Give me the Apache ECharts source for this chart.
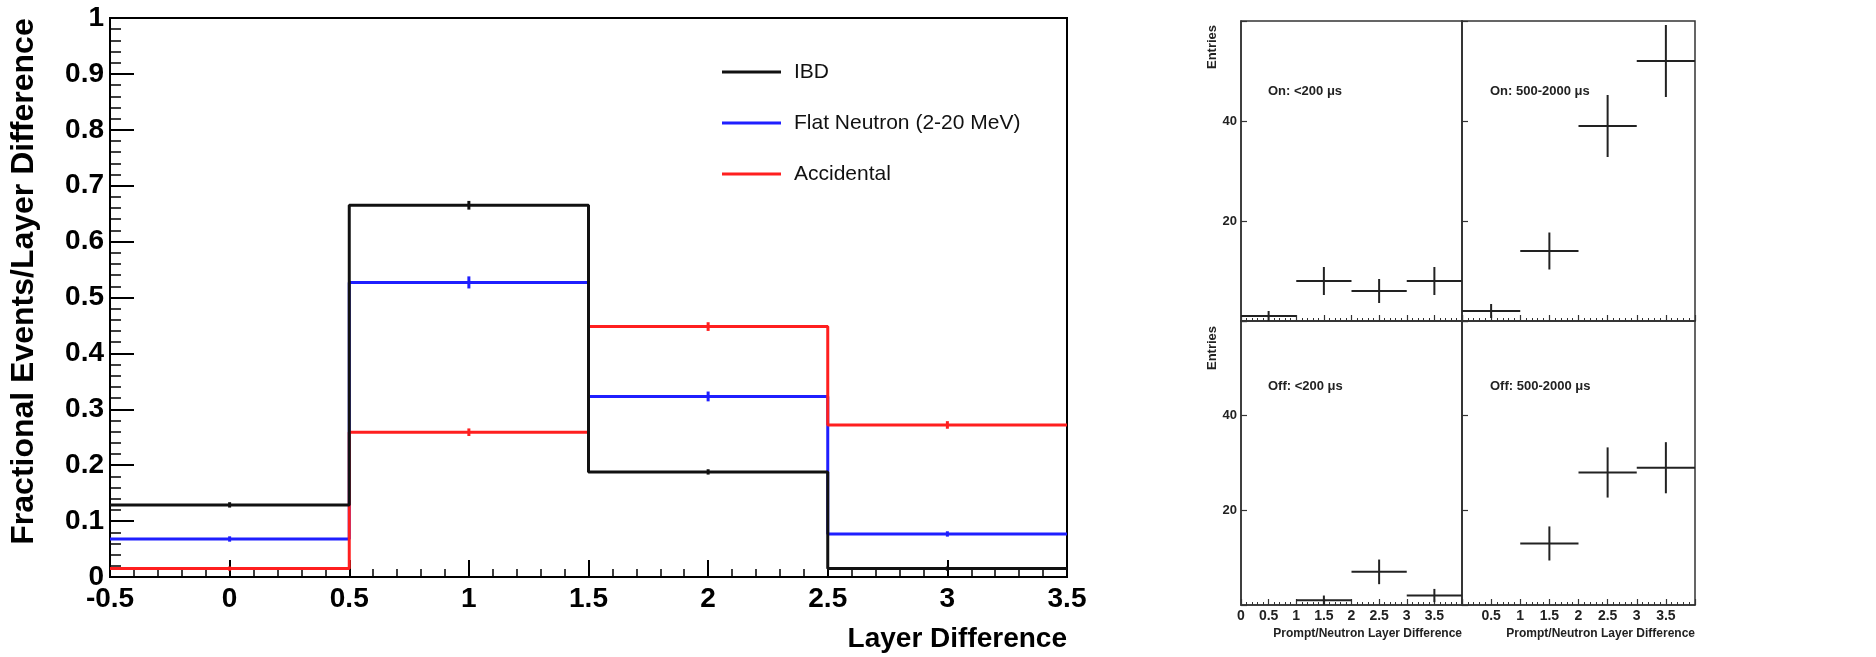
<!DOCTYPE html>
<html>
<head>
<meta charset="utf-8">
<script src="https://cdn.jsdelivr.net/npm/echarts@6/dist/echarts.min.js"></script>
<style>
html,body{margin:0;padding:0;background:#fff;}
#chart{width:1876px;height:657px;}
</style>
</head>
<body>
<div id="chart"></div>
<script>
// ---------- Main histogram data ----------
const binEdges = [-0.5, 0.5, 1.5, 2.5, 3.5];
const binCenters = [0, 1, 2, 3];
const ibdVals  = [0.129, 0.665, 0.188, 0.015];
const flatVals = [0.068, 0.527, 0.323, 0.077];
const accVals  = [0.015, 0.259, 0.448, 0.272];
const ibdErr  = [0.003, 0.006, 0.003, 0.002];
const flatErr = [0.003, 0.009, 0.007, 0.003];
const accErr  = [0.002, 0.005, 0.006, 0.005];
const seriesNames = ['IBD', 'Flat Neutron (2-20 MeV)', 'Accidental'];
const yTicks = [0, 0.1, 0.2, 0.3, 0.4, 0.5, 0.6, 0.7, 0.8, 0.9, 1];

// ---------- Small panels data ----------
const smallCenters = [0.5, 1.5, 2.5, 3.5];
const smallBinWidth = 1;
const onShort   = [1, 8, 6, 8];
const onShortErr = [1, 2.8, 2.4, 2.8];
const onLong    = [2, 14, 39, 52];
const onLongErr  = [1.4, 3.7, 6.2, 7.2];
const offShort  = [0, 1, 7, 2];
const offShortErr = [0, 1, 2.6, 1.4];
const offLong   = [0, 13, 28, 29];
const offLongErr  = [0, 3.6, 5.3, 5.4];
const panelLabels = ['On: <200 \u03bcs', 'On: 500-2000 \u03bcs', 'Off: <200 \u03bcs', 'Off: 500-2000 \u03bcs'];

const FONT = 'Liberation Sans, Arial, Helvetica, sans-serif';
const colors = {ibd: '#111111', flat: '#1f1fff', acc: '#ff1f1f'};

function stepData(vals) {
  return binEdges.map((e, i) => [e, vals[Math.min(i, vals.length - 1)]]);
}
function errData(vals, errs) {
  return binCenters.map((c, i) => [c, vals[i], errs[i]]);
}
function errRender(color) {
  return function (params, api) {
    const x = api.value(0), v = api.value(1), e = api.value(2);
    const t = api.coord([x, v + e]), b = api.coord([x, v - e]);
    return {type: 'line', shape: {x1: t[0], y1: t[1] - 1, x2: b[0], y2: b[1] + 1},
      style: {stroke: color, lineWidth: 3}};
  };
}
function crossRender(params, api) {
  const x = api.value(0), v = api.value(1), e = api.value(2);
  if (v <= 0) return null;
  const l = api.coord([x - smallBinWidth / 2, v]), r = api.coord([x + smallBinWidth / 2, v]);
  const t = api.coord([x, v + e]), b = api.coord([x, Math.max(0, v - e)]);
  return {type: 'group', children: [
    {type: 'line', shape: {x1: l[0], y1: l[1], x2: r[0], y2: r[1]}, style: {stroke: '#222', lineWidth: 2}},
    {type: 'line', shape: {x1: t[0], y1: t[1], x2: b[0], y2: b[1]}, style: {stroke: '#222', lineWidth: 2}}
  ]};
}
function crossData(vals, errs) {
  return smallCenters.map((c, i) => [c, vals[i], errs[i]]);
}

const chart = echarts.init(document.getElementById('chart'), null, {renderer: 'canvas'});

const smallGrids = [
  {left: 1241, top: 21, width: 221, height: 300},
  {left: 1462, top: 21, width: 233, height: 300},
  {left: 1241, top: 321, width: 221, height: 284},
  {left: 1462, top: 321, width: 233, height: 284}
];

const grids = [{left: 109, top: 18, width: 958, height: 559, show: true, borderColor: '#000', borderWidth: 2, backgroundColor: 'transparent'}]
  .concat(smallGrids.map(g => Object.assign({show: true, borderColor: '#333', borderWidth: 1.5}, g)));

const xAxes = [{
  type: 'value', gridIndex: 0, min: -0.5, max: 3.5, interval: 0.5,
  axisLine: {show: true, onZero: false, lineStyle: {color: '#000', width: 2}},
  axisTick: {show: true, inside: true, length: 17, lineStyle: {color: '#000', width: 2}},
  minorTick: {show: true, splitNumber: 5, length: 8, lineStyle: {color: '#000', width: 1.5}},
  splitLine: {show: false},
  axisLabel: {fontFamily: FONT, fontWeight: 'bold', fontSize: 28, color: '#000', margin: 8},
  name: 'Layer Difference', nameLocation: 'end', nameGap: 0,
  nameTextStyle: {fontFamily: FONT, fontWeight: 'bold', fontSize: 28, color: '#000', align: 'right', verticalAlign: 'top', padding: [48, 0, 0, 0]}
}];
const yAxes = [{
  type: 'value', gridIndex: 0, min: 0, max: 1, interval: 0.1,
  axisLine: {show: true, onZero: false, lineStyle: {color: '#000', width: 2}},
  axisTick: {show: true, inside: true, length: 24, lineStyle: {color: '#000', width: 2}},
  minorTick: {show: true, splitNumber: 5, length: 11, lineStyle: {color: '#000', width: 1.5}},
  splitLine: {show: false},
  axisLabel: {fontFamily: FONT, fontWeight: 'bold', fontSize: 28, color: '#000', margin: 6,
    formatter: v => yTicks.includes(Math.round(v * 10) / 10) ? String(Math.round(v * 10) / 10) : ''},
  name: 'Fractional Events/Layer Difference', nameLocation: 'middle', nameGap: 70,
  nameTextStyle: {fontFamily: FONT, fontWeight: 'bold', fontSize: 32, color: '#000', padding: [0, 0, 0, 32]}
}];

smallGrids.forEach((g, i) => {
  const gi = i + 1;
  const isBottom = i >= 2, isLeft = (i % 2 === 0);
  xAxes.push({
    type: 'value', gridIndex: gi, min: 0, max: 4, interval: 0.5,
    axisLine: {show: true, onZero: false, lineStyle: {color: '#333', width: 1.5}},
    axisTick: {show: true, inside: true, length: 6, lineStyle: {color: '#333', width: 1.2}},
    minorTick: {show: true, splitNumber: 5, length: 3, lineStyle: {color: '#333', width: 1}},
    splitLine: {show: false},
    axisLabel: {show: isBottom, fontFamily: FONT, fontWeight: 'bold', fontSize: 14, color: '#222', margin: 4,
      showMaxLabel: false,
      formatter: v => (v >= 4 || (!isLeft && v === 0)) ? '' : String(v)},
    name: isBottom ? 'Prompt/Neutron Layer Difference' : '', nameLocation: 'end', nameGap: 0,
    nameTextStyle: {fontFamily: FONT, fontWeight: 'bold', fontSize: 12, color: '#222', align: 'right', verticalAlign: 'top', padding: [23, 0, 0, 0]}
  });
  yAxes.push({
    type: 'value', gridIndex: gi, min: 0, max: 60, interval: 20,
    axisLine: {show: true, onZero: false, lineStyle: {color: '#333', width: 1.5}},
    axisTick: {show: true, inside: true, length: 6, lineStyle: {color: '#333', width: 1.2}},
    splitLine: {show: false},
    axisLabel: {show: isLeft, fontFamily: FONT, fontWeight: 'bold', fontSize: 13, color: '#222', margin: 4,
      formatter: v => (v === 0 || v === 60) ? '' : String(v)},
    name: isLeft ? 'Entries' : '', nameLocation: 'middle', nameGap: 18,
    nameTextStyle: {fontFamily: FONT, fontWeight: 'bold', fontSize: 13, color: '#222', padding: [0, 0, 0, isBottom ? 230 : 248]}
  });
});

const series = [
  {name: seriesNames[1], type: 'line', step: 'end', xAxisIndex: 0, yAxisIndex: 0, data: stepData(flatVals),
    symbol: 'none', lineStyle: {color: colors.flat, width: 3}, itemStyle: {color: colors.flat}, z: 2},
  {name: seriesNames[2], type: 'line', step: 'end', xAxisIndex: 0, yAxisIndex: 0, data: stepData(accVals),
    symbol: 'none', lineStyle: {color: colors.acc, width: 3}, itemStyle: {color: colors.acc}, z: 3},
  {name: seriesNames[0], type: 'line', step: 'end', xAxisIndex: 0, yAxisIndex: 0, data: stepData(ibdVals),
    symbol: 'none', lineStyle: {color: colors.ibd, width: 3}, itemStyle: {color: colors.ibd}, z: 4},
  {name: 'flatErr', type: 'custom', xAxisIndex: 0, yAxisIndex: 0, data: errData(flatVals, flatErr), renderItem: errRender(colors.flat), z: 2},
  {name: 'accErr', type: 'custom', xAxisIndex: 0, yAxisIndex: 0, data: errData(accVals, accErr), renderItem: errRender(colors.acc), z: 3},
  {name: 'ibdErr', type: 'custom', xAxisIndex: 0, yAxisIndex: 0, data: errData(ibdVals, ibdErr), renderItem: errRender(colors.ibd), z: 4}
];
const smallSets = [[onShort, onShortErr], [onLong, onLongErr], [offShort, offShortErr], [offLong, offLongErr]];
smallSets.forEach((s, i) => {
  series.push({name: panelLabels[i], type: 'custom', xAxisIndex: i + 1, yAxisIndex: i + 1,
    data: crossData(s[0], s[1]), renderItem: crossRender, clip: false});
});

const titles = panelLabels.map((t, i) => ({
  text: t, left: (i % 2 === 0) ? 1268 : 1490, top: (i < 2) ? 85 : 380,
  textStyle: {fontFamily: FONT, fontWeight: 'bold', fontSize: 13, color: '#222'}, padding: 0
}));

chart.setOption({
  backgroundColor: '#fff',
  animation: false,
  title: titles,
  grid: grids,
  xAxis: xAxes,
  yAxis: yAxes,
  legend: {
    data: seriesNames, orient: 'vertical', left: 722, top: 55, padding: 0,
    icon: 'rect', itemWidth: 59, itemHeight: 3, itemGap: 17,
    textStyle: {fontFamily: FONT, fontSize: 21, color: '#111', lineHeight: 30, padding: [4, 0, 0, 8]},
    selectedMode: false
  },
  series: series
});
</script>
</body>
</html>
